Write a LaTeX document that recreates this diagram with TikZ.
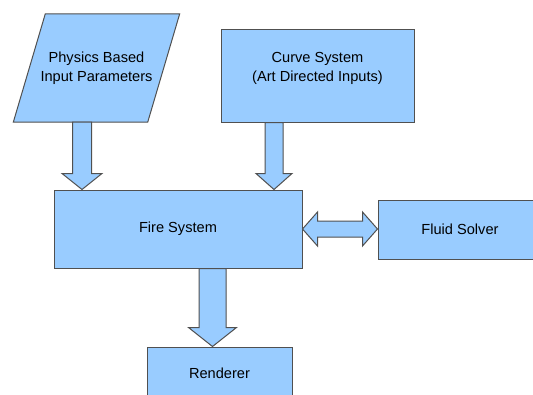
\documentclass[tikz,border=0pt]{standalone}
\usepackage{fontspec}
\setmainfont{Liberation Sans}
\usepackage{tikz}
\usetikzlibrary{arrows.meta,positioning,calc,backgrounds}
\definecolor{boxblue}{HTML}{99CCFF}
\definecolor{edge}{HTML}{505050}
\tikzset{
  txt/.style   ={inner sep=0pt, align=center, font=\fontsize{14.6}{19}\selectfont},
  blk/.style   ={txt, draw=edge, fill=boxblue, line width=1pt},
  fatdown/.style args={#1/#2/#3}{draw=edge, fill=boxblue, line width=1pt, line join=miter,
    to path={let \p1=(\tikztostart), \p2=(\tikztotarget) in
      (\x1-#1,\y1) -- (\x1-#1,\y2+#3) -- (\x1-#2,\y2+#3) -- (\x1,\y2)
      -- (\x1+#2,\y2+#3) -- (\x1+#1,\y2+#3) -- (\x1+#1,\y1) -- cycle}},
  fatboth/.style args={#1/#2/#3}{draw=edge, fill=boxblue, line width=1pt, line join=miter,
    to path={let \p1=(\tikztostart), \p2=(\tikztotarget) in
      (\x1,\y1) -- (\x1+#3,\y1+#2) -- (\x1+#3,\y1+#1) -- (\x2-#3,\y1+#1) -- (\x2-#3,\y1+#2)
      -- (\x2,\y1) -- (\x2-#3,\y1-#2) -- (\x2-#3,\y1-#1) -- (\x1+#3,\y1-#1)
      -- (\x1+#3,\y1-#2) -- cycle}}
}
\begin{document}
\begin{tikzpicture}[x=1pt,y=-1pt]
\useasboundingbox (0,0) rectangle (533,394);
\clip (0,0) rectangle (533,394);
\node[txt, minimum width=134pt, minimum height=108pt] (phys) at (96.5,68) {Physics Based\\Input Parameters};
\begin{scope}[on background layer]
  \draw[draw=edge, fill=boxblue, line width=1pt]
    ([xshift=16pt]phys.north west) -- ([xshift=16pt]phys.north east)
    -- ([xshift=-16pt]phys.south east) -- ([xshift=-16pt]phys.south west) -- cycle;
\end{scope}
\node[blk, minimum width=193pt, minimum height=93pt,
      label={[txt, yshift=7pt]center:Curve System\\(Art Directed Inputs)}]
  (curve) at (317.5,75.5) {};
\node[blk, minimum width=248pt, minimum height=78pt] (fire) at (178,229) {Fire System};
\node[blk, minimum width=164pt, minimum height=59pt] (fluid) at (460,229.5) {Fluid Solver};
\node[blk, minimum width=145pt, minimum height=52pt] (rend) at (219.5,373) {Renderer};
\draw[fatdown=9.5pt/20pt/16pt] ([xshift=-14.5pt]phys.south) to (fire.north);
\draw[fatdown=9pt/18pt/16pt] ([xshift=-43.5pt]curve.south) to (fire.north);
\draw[fatdown=13.5pt/24pt/19pt] ([xshift=34.5pt]fire.south) to (rend.north);
\draw[fatboth=8pt/17pt/15pt] (fire.east) to (fluid.west);
\end{tikzpicture}
\end{document}
